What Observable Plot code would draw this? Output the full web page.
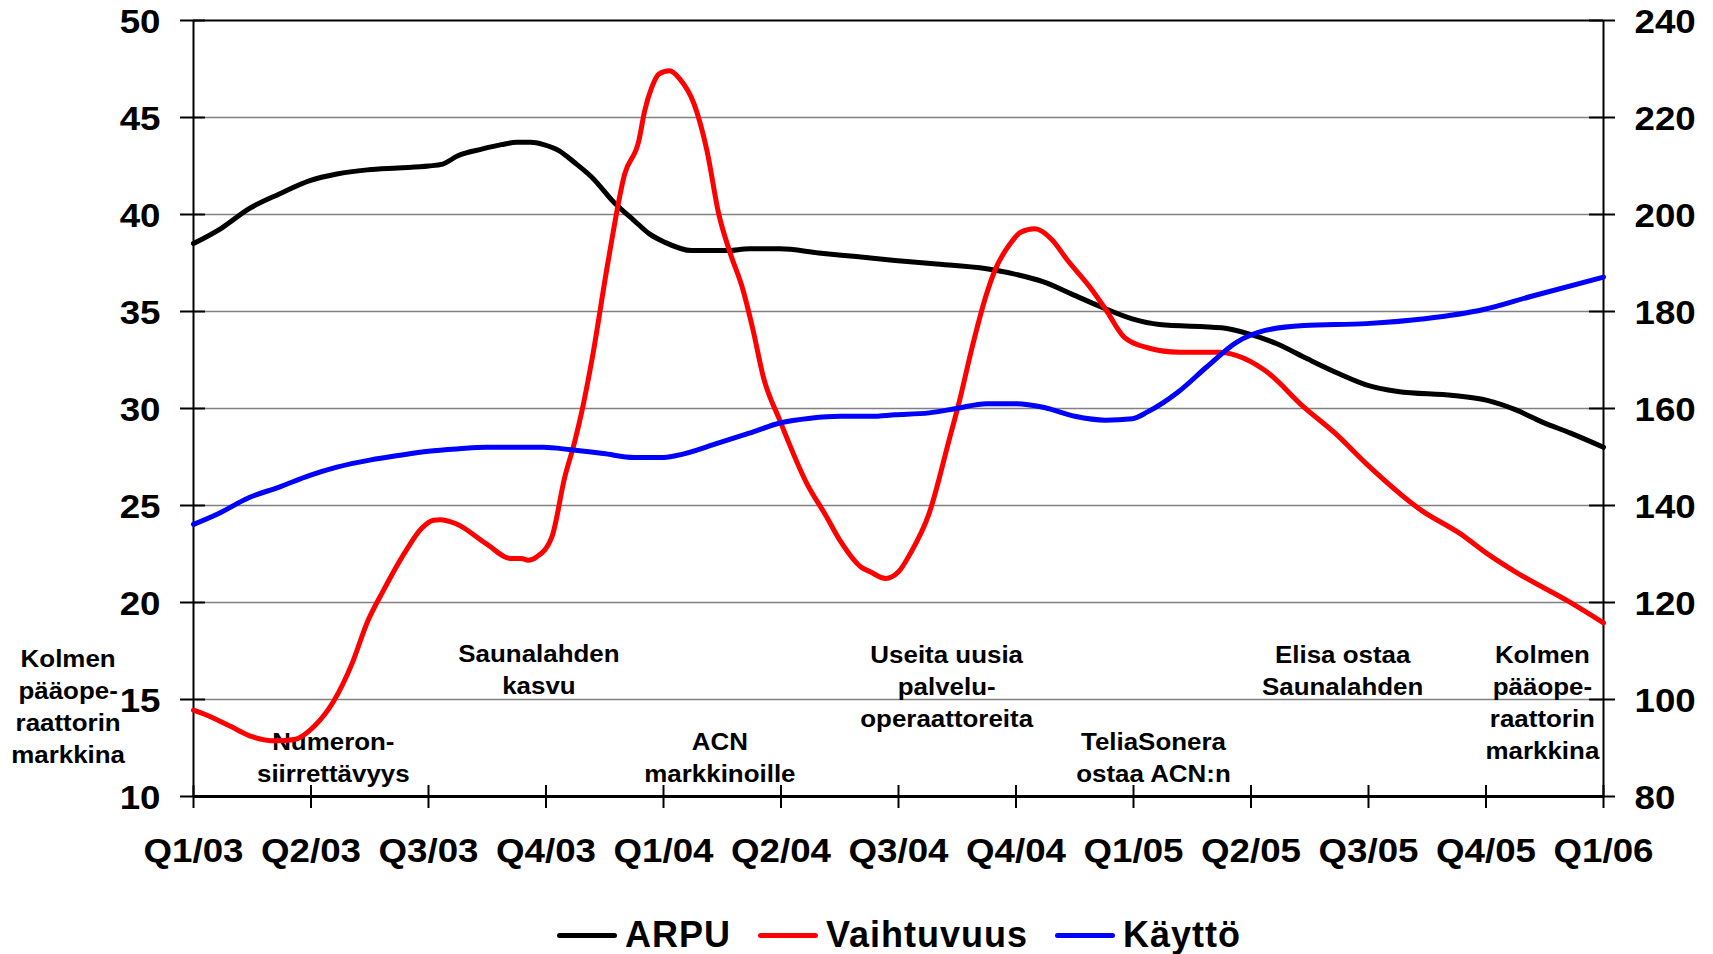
<!DOCTYPE html>
<html><head><meta charset="utf-8">
<script src="https://cdn.jsdelivr.net/npm/d3@7"></script>
<script src="https://cdn.jsdelivr.net/npm/@observablehq/plot@0.6"></script>
<style>
body{margin:0;background:#fff;font-family:"Liberation Sans",Arial,sans-serif;}
#wrap{position:relative;width:1713px;height:954px;overflow:hidden;}
#legend{position:absolute;left:557px;top:910px;height:50px;display:flex;align-items:center;font-weight:bold;font-size:36px;letter-spacing:1px;color:#000;}
#legend .sw{display:inline-block;width:60px;height:5px;border-radius:3px;margin-right:8px;}
#legend .lab{margin-right:27px;}
</style></head><body>
<div id="wrap"><div id="chart"></div><div id="legend"></div></div>
<script>
// ---- data (x positions in quarters since Q1/03) ----
const quarterLabels = ["Q1/03","Q2/03","Q3/03","Q4/03","Q1/04","Q2/04","Q3/04","Q4/04","Q1/05","Q2/05","Q3/05","Q4/05","Q1/06"];
const quarterIndex = [0,1,2,3,4,5,6,7,8,9,10,11,12];

// ARPU (left axis)
const arpuX = [0,0.24,0.47,0.73,0.99,1.22,1.48,1.74,2.0,2.12,2.25,2.46,2.62,2.75,2.87,2.98,3.11,3.24,3.39,3.59,3.75,3.88,4.01,4.24,4.54,4.73,4.99,5.32,5.64,5.97,6.3,6.75,6.98,7.24,7.47,7.73,7.99,8.22,8.75,8.98,9.22,9.48,9.75,9.98,10.25,10.72,11.01,11.25,11.48,11.72,12.0];
const arpu = [38.5,39.3,40.29,41.06,41.75,42.09,42.3,42.4,42.5,42.6,43.03,43.38,43.6,43.72,43.72,43.6,43.29,42.69,41.92,40.55,39.69,39.0,38.57,38.14,38.14,38.23,38.23,38.02,37.83,37.63,37.46,37.2,36.94,36.51,35.91,35.22,34.62,34.33,34.16,33.85,33.34,32.56,31.79,31.22,30.88,30.67,30.42,29.94,29.3,28.73,28.0];

// Vaihtuvuus (left axis)
const vaihtuvuusX = [0,0.11,0.31,0.5,0.7,0.86,1.03,1.19,1.35,1.48,1.61,1.81,1.94,2.04,2.1,2.23,2.49,2.7,2.79,2.85,2.92,3.05,3.16,3.24,3.31,3.39,3.53,3.67,3.79,3.84,3.9,3.96,4.05,4.14,4.26,4.37,4.47,4.57,4.67,4.76,4.85,4.99,5.22,5.38,5.51,5.68,5.76,5.89,6.0,6.1,6.26,6.43,6.52,6.62,6.75,6.82,6.95,7.04,7.16,7.3,7.44,7.63,7.76,7.92,8.12,8.39,8.72,8.88,9.12,9.45,9.72,9.98,10.45,10.78,11.01,11.25,11.71,12.0];
const vaihtuvuus = [14.45,14.2,13.63,13.08,12.87,12.94,13.63,14.88,16.86,19.0,20.55,22.69,23.81,24.24,24.27,24.07,23.04,22.27,22.27,22.18,22.35,23.38,26.47,28.19,29.99,32.48,37.63,42.09,43.8,45.35,46.55,47.24,47.41,46.98,45.7,43.29,40.03,37.97,36.25,34.1,31.62,29.39,26.13,24.5,23.12,21.83,21.58,21.24,21.58,22.52,24.58,28.36,30.42,32.99,35.91,37.11,38.49,39.08,39.26,38.74,37.63,36.25,35.14,33.68,33.13,32.9,32.9,32.73,31.96,30.07,28.7,27.16,24.75,23.55,22.52,21.58,20.03,18.95];

// Käyttö (right axis)
const kayttoX = [0,0.21,0.47,0.73,0.99,1.22,1.51,1.74,2.0,2.26,2.49,2.98,3.21,3.49,3.75,3.98,4.11,4.47,4.73,4.99,5.25,5.51,5.77,5.97,6.26,6.49,6.75,7.01,7.24,7.5,7.76,7.99,8.12,8.38,8.62,8.88,9.12,9.45,9.98,10.48,10.98,11.38,12.0];
const kaytto = [136.1,138.3,141.6,143.8,146.2,147.9,149.4,150.3,151.2,151.7,152.0,152.0,151.5,150.7,149.9,149.9,150.3,152.9,154.9,157.0,158.0,158.4,158.4,158.7,159.1,160.0,161.0,161.0,160.2,158.4,157.6,157.9,159.3,163.4,168.5,173.7,176.1,177.1,177.5,178.5,180.4,183.1,187.1];

const leftTicks = [10,15,20,25,30,35,40,45,50];
const rightTicks = [80,100,120,140,160,180,200,220,240];
const seriesNames = ["ARPU","Vaihtuvuus","Käyttö"];
const seriesColors = ["#000000","#ff0000","#0000ff"];
const eventTexts = ["Kolmen\npääope-\nraattorin\nmarkkina","Numeron-\nsiirrettävyys","Saunalahden\nkasvu","ACN\nmarkkinoille","Useita uusia\npalvelu-\noperaattoreita","TeliaSonera\nostaa ACN:n","Elisa ostaa\nSaunalahden","Kolmen\npääope-\nraattorin\nmarkkina"];
const eventQuarters = [-1.067,1.19,2.94,4.48,6.41,8.17,9.78,11.48];
const eventLevels = [14.71,12.09,16.64,12.09,15.74,12.09,16.57,14.92];

// ---- build ----
const yMin = leftTicks[0], yMax = leftTicks[leftTicks.length-1];
const rMin = rightTicks[0], rMax = rightTicks[rightTicks.length-1];
const toLeft = v => yMin + (v - rMin) * (yMax - yMin) / (rMax - rMin);
const rows = [];
arpuX.forEach((q,i) => rows.push({q, y: arpu[i], s: "ARPU"}));
vaihtuvuusX.forEach((q,i) => rows.push({q, y: vaihtuvuus[i], s: "Vaihtuvuus"}));
kayttoX.forEach((q,i) => rows.push({q, y: toLeft(kaytto[i]), s: "Käyttö"}));
const events = eventTexts.map((t,i) => ({t, q: eventQuarters[i], v: eventLevels[i]}));
const innerGrid = leftTicks.slice(1, -1);
const xMin = quarterIndex[0], xMax = quarterIndex[quarterIndex.length-1];

const chart = Plot.plot({
  width: 1713, height: 900,
  marginLeft: 193, marginRight: 110, marginTop: 20, marginBottom: 104,
  x: {domain: [xMin, xMax], axis: null},
  y: {domain: [yMin, yMax], axis: null},
  color: {domain: seriesNames, range: seriesColors},
  style: {fontFamily: '"Liberation Sans", Arial, sans-serif', fontWeight: "bold", fontSize: "34px", color: "#000", background: "#fff", overflow: "visible"},
  marks: [
    Plot.ruleY(innerGrid, {y: d => d, stroke: "#808080", strokeWidth: 1.6}),
    Plot.ruleY([yMax], {y: d => d, stroke: "#000", strokeWidth: 2}),
    Plot.ruleX([xMin, xMax], {x: d => d, stroke: "#000", strokeWidth: 2}),
    Plot.ruleY(leftTicks, {y: d => d, x1: () => xMin, x2: () => xMin, insetLeft: -13, insetRight: -12, stroke: "#000", strokeWidth: 2}),
    Plot.ruleY(leftTicks, {y: d => d, x1: () => xMax, x2: () => xMax, insetLeft: -14, insetRight: -12, stroke: "#000", strokeWidth: 2}),
    Plot.ruleX(quarterIndex, {x: d => d, y1: () => yMin, y2: () => yMin, insetTop: -11, insetBottom: -12, stroke: "#000", strokeWidth: 2}),
    Plot.ruleY([yMin], {y: d => d, stroke: "#000", strokeWidth: 3}),
    Plot.axisY(leftTicks, {anchor: "left", tickSize: 0, tickPadding: 33, dy: 2, label: null, fontSize: 34, fontWeight: "bold"}),
    Plot.axisY(leftTicks, {anchor: "right", tickSize: 0, tickPadding: 31, dy: 2, label: null, fontSize: 34, fontWeight: "bold", tickFormat: d => String(rightTicks[leftTicks.indexOf(d)])}),
    Plot.axisX(quarterIndex, {anchor: "bottom", tickSize: 0, tickPadding: 41, label: null, fontSize: 34, fontWeight: "bold", tickFormat: d => quarterLabels[quarterIndex.indexOf(d)]}),
    Plot.text(events, {x: "q", y: "v", text: "t", fontSize: 24, fontWeight: "bold", lineHeight: 1.33, lineAnchor: "middle", textAnchor: "middle", fill: "#000"}),
    Plot.line(rows, {x: "q", y: "y", z: "s", stroke: "s", strokeWidth: 5, curve: "monotone-x", strokeLinejoin: "round", strokeLinecap: "round"})
  ]
});
// Widen text slightly to match the original's horizontally stretched typography
chart.querySelectorAll("text").forEach(t => {
  const tr = t.getAttribute("transform");
  if (tr) t.setAttribute("transform", tr + " scale(1.08,1)");
});
document.getElementById("chart").appendChild(chart);

const legend = document.getElementById("legend");
seriesNames.forEach((n,i) => {
  const sw = document.createElement("span"); sw.className = "sw"; sw.style.background = seriesColors[i];
  const lb = document.createElement("span"); lb.className = "lab"; lb.textContent = n;
  legend.appendChild(sw); legend.appendChild(lb);
});
</script>
</body></html>
